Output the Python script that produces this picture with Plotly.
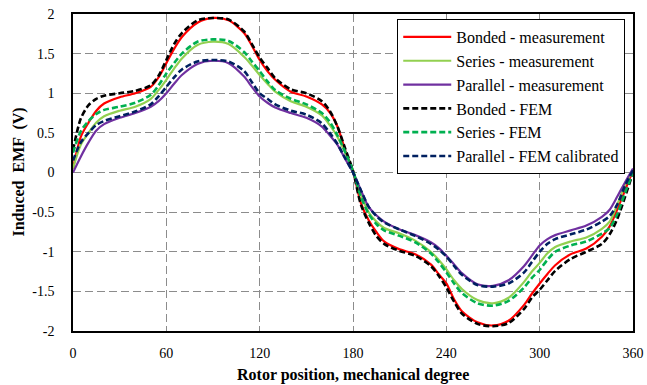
import plotly.graph_objects as go

deg = [0, 5, 10, 15, 20, 30, 40, 50, 55, 60, 65, 70, 80, 90, 100, 110, 115, 120, 125, 130,
       140, 150, 160, 165, 170, 175, 180, 185, 190, 195, 200, 210, 220, 230, 235, 240, 245,
       250, 260, 270, 280, 290, 295, 300, 305, 310, 320, 330, 340, 345, 350, 355, 360]

bonded_meas = [0.05, 0.45, 0.63, 0.78, 0.87, 0.95, 1.0, 1.08, 1.2, 1.38, 1.56, 1.71, 1.89, 1.95,
               1.92, 1.76, 1.60, 1.42, 1.28, 1.17, 1.02, 0.96, 0.86, 0.76, 0.58, 0.28, 0.02,
               -0.38, -0.6, -0.75, -0.87, -0.97, -1.03, -1.16, -1.28, -1.40, -1.60, -1.75,
               -1.89, -1.93, -1.87, -1.67, -1.53, -1.40, -1.28, -1.17, -1.03, -0.96, -0.81,
               -0.68, -0.46, -0.22, 0.03]
series_meas = [0.05, 0.35, 0.5, 0.63, 0.71, 0.78, 0.83, 0.93, 1.04, 1.17, 1.31, 1.44, 1.61, 1.65,
               1.62, 1.46, 1.35, 1.23, 1.12, 1.02, 0.9, 0.83, 0.72, 0.6, 0.45, 0.25, 0.02,
               -0.27, -0.5, -0.62, -0.7, -0.77, -0.86, -1.0, -1.1, -1.22, -1.36, -1.47,
               -1.61, -1.65, -1.58, -1.38, -1.25, -1.14, -1.02, -0.94, -0.87, -0.82, -0.71,
               -0.62, -0.4, -0.15, 0.03]
parallel_meas = [0.0, 0.2, 0.38, 0.53, 0.61, 0.69, 0.75, 0.83, 0.9, 1.0, 1.12, 1.23, 1.37, 1.41,
                 1.38, 1.21, 1.08, 0.96, 0.88, 0.82, 0.75, 0.69, 0.58, 0.47, 0.35, 0.17, 0.0,
                 -0.22, -0.43, -0.54, -0.62, -0.72, -0.79, -0.88, -0.95, -1.05, -1.16, -1.27,
                 -1.41, -1.43, -1.36, -1.18, -1.05, -0.92, -0.84, -0.79, -0.73, -0.67, -0.56,
                 -0.47, -0.3, -0.12, 0.05]
bonded_fem = [0.28, 0.68, 0.85, 0.93, 0.97, 1.0, 1.03, 1.1, 1.22, 1.42, 1.62, 1.76, 1.92, 1.95,
              1.93, 1.78, 1.62, 1.45, 1.32, 1.19, 1.05, 1.0, 0.9, 0.78, 0.58, 0.30, 0.02,
              -0.4, -0.63, -0.8, -0.9, -0.99, -1.05, -1.18, -1.3, -1.45, -1.63, -1.78,
              -1.91, -1.94, -1.9, -1.72, -1.58, -1.48, -1.36, -1.24, -1.09, -1.0, -0.9,
              -0.78, -0.58, -0.3, 0.0]
series_fem = [0.25, 0.52, 0.65, 0.74, 0.79, 0.83, 0.88, 0.98, 1.1, 1.25, 1.38, 1.50, 1.65, 1.68,
              1.66, 1.52, 1.40, 1.28, 1.15, 1.04, 0.93, 0.86, 0.75, 0.64, 0.47, 0.26, 0.02,
              -0.3, -0.52, -0.65, -0.73, -0.8, -0.88, -1.02, -1.13, -1.26, -1.4, -1.52,
              -1.65, -1.68, -1.62, -1.45, -1.33, -1.23, -1.1, -1.0, -0.92, -0.87, -0.77,
              -0.7, -0.52, -0.25, 0.0]
parallel_fem = [0.15, 0.38, 0.5, 0.6, 0.65, 0.71, 0.77, 0.86, 0.96, 1.08, 1.2, 1.3, 1.4, 1.42,
                1.40, 1.28, 1.14, 1.0, 0.93, 0.86, 0.78, 0.73, 0.62, 0.5, 0.36, 0.18, 0.0,
                -0.22, -0.43, -0.55, -0.63, -0.72, -0.8, -0.9, -0.97, -1.06, -1.18, -1.29,
                -1.42, -1.44, -1.4, -1.26, -1.13, -1.0, -0.9, -0.84, -0.78, -0.72, -0.62,
                -0.55, -0.4, -0.16, 0.03]

x_ticks = [0, 60, 120, 180, 240, 300, 360]
y_ticks = [-2, -1.5, -1, -0.5, 0, 0.5, 1, 1.5, 2]
y_tick_text = ["-2", "-1.5", "-1", "-0.5", "0", "0.5", "1", "1.5", "2"]
x_title = "Rotor position, mechanical degree"
y_title = "Induced  EMF  (V)"

series = [
    ("Bonded - measurement", bonded_meas, "#FF0000", "solid", 2.2),
    ("Series - measurement", series_meas, "#92D050", "solid", 2.2),
    ("Parallel - measurement", parallel_meas, "#7030A0", "solid", 2.2),
    ("Bonded - FEM", bonded_fem, "#000000", "6px,3px", 2.6),
    ("Series - FEM", series_fem, "#00B050", "6px,3px", 2.6),
    ("Parallel - FEM calibrated", parallel_fem, "#002060", "6px,3px", 2.6),
]

fig = go.Figure()
for name, ys, color, dash, w in series:
    fig.add_trace(go.Scatter(x=deg, y=ys, mode="lines", name=name,
                             line=dict(color=color, dash=dash, width=w, shape="spline", smoothing=0.8)))

font = "Liberation Serif"
fig.update_layout(
    width=647, height=385,
    margin=dict(l=73, r=14, t=14, b=54, autoexpand=False),
    paper_bgcolor="white", plot_bgcolor="white",
    font=dict(family=font, size=15, color="black"),
    showlegend=True,
    legend=dict(x=0.579, y=0.984, xanchor="left", yanchor="top",
                bgcolor="white", bordercolor="black", borderwidth=1,
                font=dict(family=font, size=16, color="black"),
                tracegroupgap=0, itemwidth=48),
    annotations=[
        dict(text="<b>" + x_title + "</b>", xref="paper", yref="paper", x=0.5, y=0,
             yshift=-44, xanchor="center", yanchor="middle", showarrow=False,
             font=dict(family=font, size=16)),
        dict(text="<b>" + y_title + "</b>", xref="paper", yref="paper", x=0, y=0.5,
             xshift=-55, xanchor="center", yanchor="middle", showarrow=False, textangle=-90,
             font=dict(family=font, size=16)),
    ],
)
fig.update_xaxes(range=[0, 360], tickvals=x_ticks, ticks="", showline=True, linecolor="black",
                 linewidth=1.5, mirror=True, showgrid=True, gridcolor="#8C8C8C", griddash="8px,4px",
                 gridwidth=1, zeroline=False, ticklabelstandoff=8, automargin=False,
                 tickfont=dict(family=font, size=14))
fig.update_yaxes(range=[-2, 2], tickvals=y_ticks, ticktext=y_tick_text, ticks="", showline=True,
                 linecolor="black", linewidth=1.5, mirror=True, showgrid=True, gridcolor="#8C8C8C",
                 griddash="8px,4px", gridwidth=1, zeroline=False, ticklabelstandoff=14,
                 automargin=False, tickfont=dict(family=font, size=14))

fig.write_html("out.html")
